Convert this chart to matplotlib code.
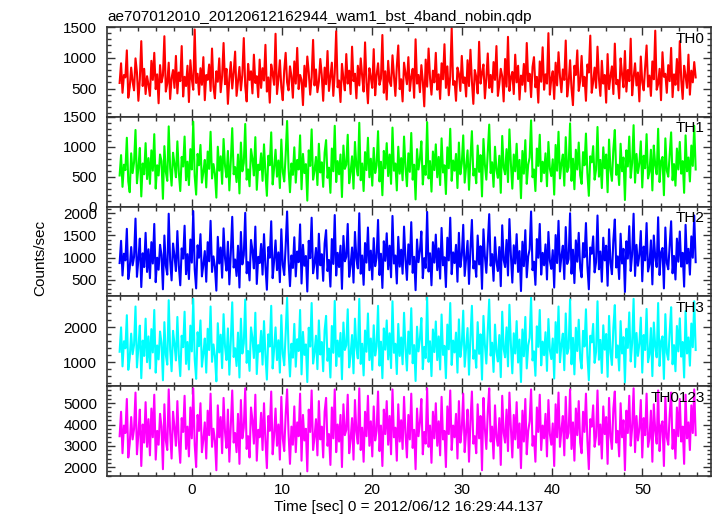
import matplotlib
matplotlib.use("Agg")
import matplotlib.pyplot as plt
import numpy as np
from matplotlib.ticker import MultipleLocator, FixedLocator

plt.rcParams["font.family"] = ["Liberation Sans", "DejaVu Sans"]

title = "ae707012010_20120612162944_wam1_bst_4band_nobin.qdp"
xlabel = "Time [sec] 0 = 2012/06/12 16:29:44.137"
ylabel = "Counts/sec"

# time span of the light curve (sec from reference time)
t_start = -8.0
t_stop = 55.9

th0 = [
    590, 910, 430, 720, 680, 1120, 350, 520, 840, 610, 470, 990, 760, 300, 650, 1270, 540, 820, 410, 700,
    560, 380, 950, 640, 1080, 490, 730, 260, 880, 600, 710, 1350, 450, 580, 920, 330, 670, 800, 510, 1030,
    420, 760, 620, 1190, 370, 690, 540, 870, 280, 960, 650, 480, 1460, 590, 740, 400, 830, 560, 1010, 310,
    720, 640, 890, 460, 1150, 530, 340, 780, 610, 990, 440, 700, 1240, 570, 820, 250, 660, 930, 500, 760,
    1100, 380, 610, 850, 470, 720, 1320, 540, 290, 900, 640, 780, 420, 1050, 590, 700, 360, 970, 510, 830,
    630, 1210, 450, 680, 270, 890, 740, 560, 1390, 410, 650, 960, 520, 310, 790, 1080, 600, 470, 860, 700,
    350, 940, 580, 1160, 490, 720, 640, 230, 870, 530, 1020, 760, 400, 680, 1290, 550, 810, 440, 610, 980,
    720, 300, 840, 570, 1110, 460, 690, 920, 380, 750, 1430, 520, 630, 280, 900, 660, 470, 1060, 580, 790,
    410, 1180, 620, 740, 340, 870, 550, 990, 700, 450, 1250, 600, 260, 830, 680, 510, 1140, 390, 720, 910,
    560, 660, 1370, 430, 780, 320, 950, 610, 540, 1040, 700, 380, 860, 1200, 490, 650, 290, 920, 740, 570,
    1010, 460, 690, 820, 350, 1300, 580, 720, 440, 880, 620, 210, 970, 530, 1150, 670, 400, 790, 600, 1080,
    480, 730, 330, 910, 650, 1220, 510, 860, 390, 700, 1480, 560, 620, 300, 840, 740, 460, 1030, 590, 680,
    370, 960, 540, 1130, 620, 250, 800, 690, 420, 1260, 580, 750, 890, 340, 660, 1070, 510, 720, 440, 930,
    640, 1190, 380, 570, 820, 700, 290, 980, 530, 1340, 460, 680, 770, 410, 1050, 600, 870, 320, 710, 560,
    900, 450, 1240, 620, 740, 360, 850, 1010, 520, 690, 270, 940, 610, 1170, 480, 730, 580, 1400, 400, 660,
    780, 330, 920, 550, 1090, 700, 440, 810, 640, 1280, 370, 590, 960, 500, 230, 870, 720, 1120, 460, 620,
    1030, 540, 690, 300, 890, 760, 1360, 430, 610, 840, 510, 1180, 660, 380, 950, 580, 720, 270, 1060, 490,
    700, 860, 410, 1230, 570, 640, 340, 990, 730, 520, 1110, 450, 800, 620, 1310, 390, 680, 910, 550, 760,
    290, 1020, 600, 470, 850, 1200, 530, 710, 380, 940, 650, 1440, 480, 570, 820, 310, 1090, 690, 740, 430,
    880, 620, 1160, 360, 730, 560, 980, 470, 1270, 640, 330, 870, 710, 510, 1050, 400, 790, 600, 930, 680,
]
th1 = [
    520, 860, 330, 700, 610, 1150, 420, 240, 890, 560, 740, 1280, 390, 650, 980, 170, 720, 540, 1060, 460,
    810, 380, 940, 600, 1210, 300, 690, 520, 870, 760, 130, 1010, 580, 430, 1340, 640, 350, 900, 710, 490,
    1090, 570, 260, 830, 670, 1170, 440, 750, 360, 960, 620, 1420, 510, 200, 880, 690, 1030, 400, 580, 780,
    320, 920, 630, 1250, 470, 710, 550, 150, 1000, 600, 840, 380, 1130, 680, 490, 930, 270, 760, 1310, 540,
    660, 410, 870, 220, 1070, 590, 730, 1380, 450, 620, 340, 960, 800, 520, 1160, 280, 700, 610, 890, 430,
    1040, 560, 180, 850, 690, 1240, 370, 640, 950, 500, 770, 310, 1120, 580, 420, 860, 1430, 650, 240, 720,
    530, 990, 400, 780, 620, 1190, 290, 880, 560, 710, 100, 940, 680, 1290, 450, 600, 830, 360, 1050, 570,
    740, 330, 900, 1110, 480, 650, 230, 970, 590, 1350, 410, 760, 540, 870, 160, 1020, 630, 700, 1200, 390,
    580, 840, 300, 1080, 670, 520, 1400, 440, 720, 260, 910, 610, 1150, 490, 800, 350, 980, 560, 690, 1260,
    420, 750, 190, 930, 640, 1060, 510, 870, 380, 1320, 600, 720, 270, 1000, 550, 810, 440, 1170, 660, 340,
    890, 580, 1230, 450, 700, 120, 960, 620, 800, 1090, 370, 680, 530, 1410, 470, 760, 250, 920, 610, 1040,
    490, 830, 360, 1140, 570, 690, 210, 990, 640, 1300, 430, 770, 600, 880, 310, 1070, 540, 720, 1190, 400,
    670, 940, 280, 810, 1260, 520, 630, 390, 1020, 580, 860, 170, 1130, 700, 450, 920, 1370, 560, 740, 330,
    1000, 610, 480, 850, 230, 1180, 650, 540, 960, 410, 1290, 720, 300, 870, 590, 1050, 460, 780, 140, 930,
    550, 1110, 380, 700, 820, 1440, 490, 620, 260, 970, 680, 1200, 420, 750, 560, 890, 340, 1080, 630, 510,
    790, 200, 1030, 600, 1250, 470, 710, 870, 350, 1160, 580, 660, 1390, 430, 800, 290, 950, 620, 1070, 520,
    380, 910, 690, 1220, 560, 180, 840, 740, 1010, 450, 620, 1330, 500, 780, 310, 990, 640, 870, 240, 1120,
    610, 430, 960, 1280, 530, 700, 360, 1050, 590, 820, 110, 940, 670, 1170, 480, 730, 1360, 400, 880, 560,
    720, 1090, 320, 850, 640, 1210, 470, 580, 950, 270, 1020, 690, 540, 1300, 410, 760, 830, 190, 1140, 600,
    500, 880, 1240, 440, 710, 350, 970, 620, 1080, 550, 760, 230, 1190, 590, 820, 420, 1020, 680, 1350, 620,
]
th2 = [
    880, 1380, 600, 1090, 940, 1650, 520, 760, 1240, 830, 1020, 1880, 570, 960, 1430, 340, 1100, 790, 1560, 680,
    1190, 540, 1350, 870, 1760, 450, 1000, 730, 1290, 1060, 290, 1500, 820, 620, 1990, 930, 490, 1320, 1040, 700,
    1600, 820, 380, 1210, 980, 1720, 630, 1080, 520, 1410, 890, 2050, 740, 310, 1280, 1000, 1530, 580, 840, 1150,
    460, 1350, 920, 1830, 680, 1030, 800, 260, 1470, 870, 1230, 550, 1660, 990, 710, 1360, 400, 1100, 1920, 780,
    960, 590, 1270, 330, 1580, 850, 1060, 2010, 650, 900, 490, 1400, 1170, 760, 1700, 410, 1020, 880, 1310, 620,
    1530, 810, 280, 1240, 1000, 1820, 540, 930, 1390, 720, 1120, 450, 1640, 840, 610, 1260, 2040, 950, 360, 1050,
    770, 1460, 580, 1140, 900, 1750, 420, 1290, 820, 1040, 240, 1380, 990, 1900, 650, 870, 1220, 530, 1540, 830,
    1080, 480, 1320, 1620, 700, 950, 350, 1420, 860, 1960, 600, 1110, 790, 1270, 300, 1490, 920, 1020, 1760, 570,
    840, 1230, 440, 1580, 980, 760, 2000, 640, 1050, 390, 1330, 890, 1680, 720, 1160, 510, 1440, 810, 1000, 1850,
    610, 1090, 320, 1370, 930, 1550, 740, 1270, 560, 1940, 870, 1050, 420, 1470, 800, 1180, 640, 1700, 960, 500,
    1300, 850, 1800, 660, 1020, 270, 1410, 900, 1160, 1590, 540, 990, 770, 2030, 690, 1100, 380, 1350, 890, 1520,
    720, 1210, 530, 1670, 830, 1010, 340, 1450, 940, 1900, 630, 1120, 880, 1290, 460, 1560, 790, 1050, 1740, 590,
    980, 1380, 410, 1190, 1850, 760, 920, 570, 1500, 850, 1260, 300, 1640, 1030, 660, 1340, 1980, 820, 1080, 480,
    1460, 900, 700, 1240, 360, 1730, 950, 790, 1400, 600, 1870, 1060, 440, 1280, 870, 1530, 680, 1150, 250, 1360,
    810, 1620, 560, 1030, 1190, 2040, 720, 910, 390, 1420, 1000, 1760, 620, 1110, 830, 1300, 510, 1580, 930, 750,
    1170, 330, 1510, 880, 1830, 690, 1040, 1270, 520, 1690, 860, 970, 2000, 640, 1180, 430, 1390, 910, 1560, 770,
    560, 1330, 1010, 1780, 820, 290, 1230, 1090, 1480, 670, 900, 1950, 740, 1140, 460, 1450, 940, 1270, 370, 1640,
    890, 630, 1400, 1860, 780, 1030, 520, 1540, 870, 1200, 230, 1370, 980, 1710, 700, 1080, 1990, 590, 1290, 820,
    1060, 1600, 470, 1250, 940, 1780, 690, 850, 1390, 400, 1500, 1010, 790, 1910, 610, 1120, 1220, 310, 1680, 880,
    740, 1300, 1820, 650, 1040, 510, 1430, 910, 1590, 800, 1110, 350, 1740, 870, 1200, 620, 1480, 1000, 1950, 900,
]
th3 = [
    1300, 2000, 880, 1600, 1400, 2350, 780, 1120, 1820, 1230, 1500, 2600, 850, 1420, 2050, 540, 1620, 1180, 2250, 1000,
    1740, 820, 1950, 1280, 2500, 700, 1480, 1080, 1880, 1550, 480, 2150, 1210, 930, 2780, 1360, 740, 1900, 1520, 1050,
    2300, 1200, 600, 1760, 1430, 2450, 950, 1580, 790, 2050, 1310, 2820, 1090, 520, 1860, 1460, 2200, 870, 1250, 1680,
    700, 1960, 1350, 2600, 1010, 1510, 1180, 450, 2120, 1280, 1790, 830, 2380, 1450, 1060, 1970, 640, 1610, 2720, 1150,
    1400, 890, 1850, 560, 2250, 1250, 1540, 2800, 980, 1320, 750, 2000, 1700, 1120, 2420, 660, 1490, 1300, 1900, 930,
    2180, 1190, 500, 1800, 1450, 2620, 820, 1370, 2000, 1060, 1630, 700, 2350, 1240, 910, 1820, 2850, 1390, 590, 1530,
    1130, 2100, 870, 1660, 1320, 2500, 650, 1870, 1210, 1510, 430, 1990, 1450, 2700, 960, 1280, 1760, 800, 2200, 1220,
    1580, 740, 1920, 2330, 1040, 1390, 560, 2040, 1270, 2760, 890, 1620, 1160, 1840, 510, 2140, 1350, 1490, 2520, 850,
    1230, 1780, 680, 2250, 1420, 1110, 2820, 950, 1530, 620, 1910, 1300, 2400, 1060, 1680, 780, 2060, 1190, 1460, 2620,
    900, 1590, 540, 1970, 1360, 2200, 1080, 1830, 830, 2750, 1270, 1530, 660, 2100, 1180, 1710, 940, 2420, 1400, 760,
    1880, 1240, 2550, 970, 1490, 460, 2020, 1310, 1680, 2270, 800, 1440, 1120, 2860, 1010, 1600, 600, 1940, 1290, 2170,
    1060, 1740, 790, 2370, 1210, 1470, 540, 2080, 1370, 2700, 920, 1620, 1280, 1850, 700, 2230, 1150, 1510, 2480, 870,
    1420, 1980, 640, 1700, 2620, 1100, 1340, 840, 2150, 1240, 1800, 500, 2330, 1500, 960, 1920, 2800, 1190, 1560, 720,
    2080, 1300, 1020, 1780, 570, 2450, 1380, 1140, 2000, 880, 2650, 1520, 680, 1830, 1250, 2180, 990, 1650, 430, 1940,
    1170, 2300, 820, 1480, 1700, 2850, 1050, 1310, 610, 2030, 1440, 2500, 910, 1590, 1200, 1860, 750, 2240, 1350, 1090,
    1680, 530, 2150, 1270, 2600, 1000, 1500, 1820, 770, 2400, 1240, 1400, 2800, 940, 1700, 650, 1990, 1320, 2220, 1110,
    820, 1900, 1450, 2520, 1190, 480, 1760, 1570, 2100, 980, 1300, 2750, 1070, 1640, 690, 2060, 1360, 1810, 580, 2330,
    1280, 920, 2000, 2640, 1130, 1480, 760, 2180, 1250, 1720, 420, 1960, 1410, 2430, 1020, 1550, 2820, 860, 1840, 1180,
    1520, 2280, 700, 1780, 1350, 2530, 1000, 1230, 1980, 600, 2140, 1450, 1140, 2700, 890, 1600, 1740, 520, 2380, 1270,
    1070, 1860, 2580, 940, 1490, 740, 2040, 1310, 2260, 1160, 1580, 560, 2470, 1250, 1710, 900, 2110, 1430, 2750, 1350,
]
th0123 = [
    3450, 4600, 2650, 3950, 3600, 5200, 2450, 3100, 4350, 3300, 3800, 5500, 2600, 3550, 4700, 2050, 4000, 3150, 5050, 2950,
    4250, 2550, 4750, 3400, 5400, 2350, 3700, 3050, 4500, 3900, 1900, 4950, 3250, 2800, 5650, 3600, 2400, 4600, 3850, 3000,
    5100, 3200, 2200, 4300, 3650, 5350, 2850, 3900, 2500, 4800, 3350, 5700, 3050, 2000, 4450, 3700, 5000, 2700, 3300, 4100,
    2400, 4650, 3500, 5450, 2950, 3800, 3250, 1850, 4900, 3400, 4350, 2650, 5250, 3650, 2900, 4700, 2250, 3950, 5600, 3150,
    3600, 2700, 4500, 2150, 5150, 3350, 3850, 5700, 2850, 3450, 2450, 4800, 4200, 3100, 5400, 2300, 3750, 3400, 4550, 2800,
    5000, 3250, 1950, 4400, 3700, 5550, 2600, 3500, 4750, 3000, 4000, 2350, 5300, 3350, 2750, 4450, 5650, 3600, 2150, 3900,
    3050, 4850, 2700, 4100, 3450, 5450, 2300, 4450, 3250, 3800, 1800, 4700, 3650, 5600, 2800, 3400, 4250, 2550, 5100, 3300,
    3900, 2450, 4600, 5250, 3000, 3550, 2100, 4800, 3350, 5650, 2700, 4000, 3200, 4450, 2000, 4950, 3500, 3750, 5400, 2650,
    3300, 4300, 2350, 5150, 3650, 3100, 5700, 2800, 3850, 2250, 4600, 3450, 5350, 3000, 4150, 2500, 4850, 3250, 3700, 5550,
    2750, 3950, 2050, 4700, 3550, 5100, 3050, 4400, 2600, 5650, 3400, 3850, 2300, 4950, 3200, 4200, 2850, 5300, 3600, 2450,
    4450, 3300, 5450, 2900, 3750, 1900, 4750, 3450, 4100, 5200, 2600, 3650, 3100, 5700, 2950, 3950, 2200, 4600, 3350, 5000,
    3000, 4150, 2550, 5300, 3300, 3700, 2000, 4850, 3550, 5600, 2800, 3950, 3400, 4500, 2400, 5100, 3150, 3800, 5450, 2700,
    3650, 4700, 2250, 4150, 5550, 3100, 3450, 2650, 4950, 3350, 4400, 1850, 5250, 3800, 2850, 4600, 5700, 3200, 3900, 2400,
    4900, 3400, 3000, 4300, 2100, 5350, 3600, 3150, 4700, 2750, 5500, 3850, 2450, 4450, 3300, 5050, 2900, 4050, 1950, 4650,
    3200, 5200, 2600, 3700, 4150, 5650, 3000, 3450, 2250, 4800, 3650, 5400, 2800, 3950, 3350, 4500, 2500, 5150, 3550, 3050,
    4050, 2050, 4950, 3400, 5500, 2950, 3750, 4400, 2550, 5300, 3350, 3600, 5650, 2850, 4100, 2300, 4750, 3500, 5100, 3150,
    2650, 4600, 3650, 5450, 3250, 1900, 4250, 3900, 4900, 2950, 3450, 5600, 3050, 4000, 2400, 4850, 3550, 4350, 2150, 5250,
    3450, 2850, 4750, 5550, 3150, 3700, 2500, 5000, 3400, 4200, 1850, 4650, 3600, 5350, 3000, 3850, 5700, 2700, 4400, 3250,
    3800, 5150, 2450, 4300, 3500, 5450, 2950, 3350, 4650, 2250, 4950, 3700, 3100, 5600, 2750, 3950, 4150, 2050, 5300, 3400,
    3050, 4450, 5500, 2850, 3750, 2400, 4800, 3450, 5200, 3200, 3900, 2150, 5400, 3350, 4100, 2800, 4900, 3600, 5650, 3500,
]

bands = ["TH0", "TH1", "TH2", "TH3", "TH0123"]
series = [th0, th1, th2, th3, th0123]
colors = ["#ff0000", "#00ff00", "#0000ff", "#00ffff", "#ff00ff"]
ylims = [(40, 1500), (0, 1500), (130, 2150), (310, 2890), (1580, 5800)]
yticks = [[500, 1000, 1500], [0, 500, 1000, 1500], [500, 1000, 1500, 2000],
          [1000, 2000], [2000, 3000, 4000, 5000]]
yminor = [100, 100, 100, 200, 200]

W, H = 717, 516
fig = plt.figure(figsize=(W / 100, H / 100), dpi=100)

left, right = 107, 711
top, bottom = 27, 476
ph = (bottom - top) / 5

for i, (name, vals, col) in enumerate(zip(bands, series, colors)):
    y0 = top + i * ph
    ax = fig.add_axes([left / W, 1 - (y0 + ph) / H, (right - left) / W, ph / H])
    t = np.linspace(t_start, t_stop, len(vals))
    ax.plot(t, vals, color=col, lw=1.5)
    ax.set_xlim(-9.4, 57.6)
    ax.set_ylim(*ylims[i])
    ax.yaxis.set_major_locator(FixedLocator(yticks[i]))
    ax.yaxis.set_minor_locator(MultipleLocator(yminor[i]))
    ax.xaxis.set_major_locator(MultipleLocator(10))
    ax.xaxis.set_minor_locator(MultipleLocator(2))
    ax.tick_params(which="both", direction="in", top=True, right=True,
                   labelsize=11, width=1.0, color="#333333")
    ax.tick_params(which="major", length=6)
    ax.tick_params(which="minor", length=3)
    ax.tick_params(axis="y", pad=7)
    ax.tick_params(axis="x", pad=5)
    for sp in ax.spines.values():
        sp.set_linewidth(1.2)
        sp.set_color("#333333")
    if i < 4:
        ax.tick_params(labelbottom=False)
    ax.text(0.99, 0.87, name, transform=ax.transAxes, ha="right", va="center",
            fontsize=11)
    if i == 0:
        ax.set_title(title, loc="left", fontsize=11, pad=4)
    if i == 4:
        ax.set_xlabel(xlabel, fontsize=11, labelpad=2)

fig.text(40 / W, 1 - 258 / H, ylabel, rotation=90, ha="center", va="center",
         fontsize=11)

fig.savefig("out.png", dpi=100)
